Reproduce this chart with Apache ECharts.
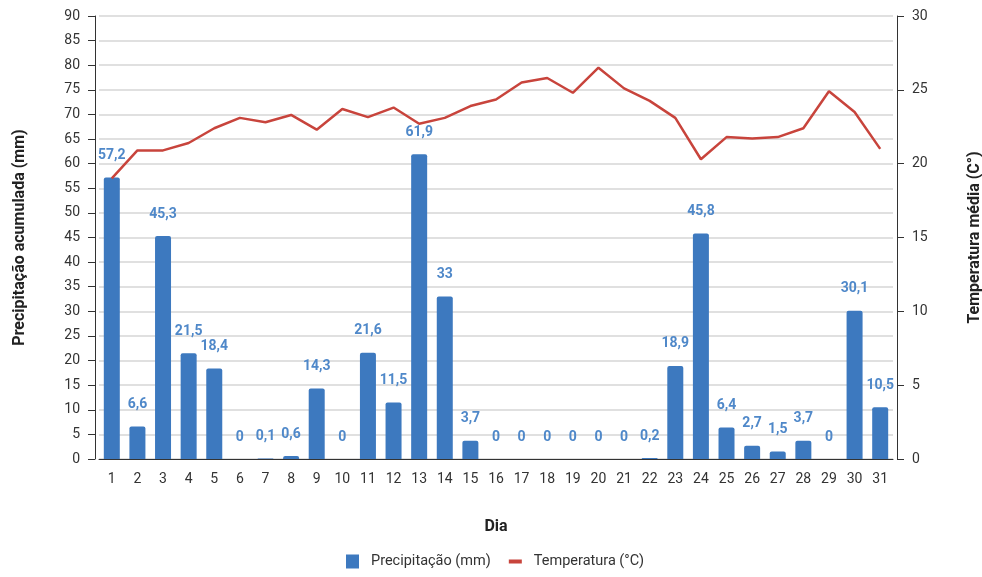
<!DOCTYPE html>
<html>
<head>
<meta charset="utf-8">
<script src="https://cdn.jsdelivr.net/npm/echarts@6/dist/echarts.min.js"></script>
<style>
  html, body { margin: 0; padding: 0; background: #fff; }
  #chart { width: 982px; height: 577px; }
</style>
</head>
<body>
<div id="chart"></div>
<script>
// Dias do mês
const dias = ['1','2','3','4','5','6','7','8','9','10','11','12','13','14','15','16','17','18','19','20','21','22','23','24','25','26','27','28','29','30','31'];

// Precipitação acumulada diária (mm)
const precipitacao = [57.2, 6.6, 45.3, 21.5, 18.4, 0, 0.1, 0.6, 14.3, 0, 21.6, 11.5, 61.9, 33, 3.7, 0, 0, 0, 0, 0, 0, 0.2, 18.9, 45.8, 6.4, 2.7, 1.5, 3.7, 0, 30.1, 10.5];

// Temperatura média diária (°C)
const temperatura = [19.0, 20.9, 20.9, 21.4, 22.4, 23.1, 22.8, 23.3, 22.3, 23.7, 23.15, 23.8, 22.7, 23.1, 23.9, 24.35, 25.5, 25.8, 24.8, 26.5, 25.1, 24.25, 23.1, 20.3, 21.8, 21.7, 21.8, 22.4, 24.9, 23.5, 21.0];

const fonte = 'Roboto, "Noto Sans", sans-serif';
const chart = echarts.init(document.getElementById('chart'), null, { renderer: 'canvas' });

// legend icon for the temperature line: a short thick bar
const iconeLinha = 'path://M0,5 L13,5 L13,9 L0,9 Z M0,0 L0,0 L0,0 Z M13,14 L13,14 L13,14 Z';

chart.setOption({
  animation: false,
  textStyle: { fontFamily: fonte },
  grid: { left: 99, right: 89, top: 16, bottom: 118, outerBoundsMode: 'none', containLabel: false },
  legend: {
    bottom: 3,
    left: 341,
    itemWidth: 13,
    itemHeight: 14,
    itemGap: 18,
    textStyle: { fontSize: 14.5, color: '#333', fontFamily: fonte, padding: [0, 0, 0, 7] },
    data: [
      { name: 'Precipitação (mm)', icon: 'rect' },
      { name: 'Temperatura (°C)', icon: iconeLinha }
    ]
  },
  xAxis: {
    type: 'category',
    data: dias,
    name: 'Dia',
    nameLocation: 'middle',
    nameGap: 60,
    nameTextStyle: { fontSize: 16, fontWeight: 'bold', color: '#222', fontFamily: fonte },
    axisLine: { lineStyle: { color: '#333', width: 1 } },
    axisTick: { alignWithLabel: true, length: 6, lineStyle: { color: '#333' } },
    axisLabel: { fontSize: 14, color: '#333', margin: 13 }
  },
  yAxis: [
    {
      type: 'value',
      min: 0, max: 90, interval: 5,
      offset: 4,
      name: 'Precipitação acumulada (mm)',
      nameLocation: 'middle',
      nameGap: 67,
      nameTextStyle: { fontSize: 16, fontWeight: 'bold', color: '#222', fontFamily: fonte },
      axisLine: { show: true, lineStyle: { color: '#333' } },
      axisTick: { show: true, length: 7, lineStyle: { color: '#333' } },
      axisLabel: { fontSize: 14, color: '#333', margin: 15 },
      splitLine: { lineStyle: { color: '#d6d6d6', width: 1.5 } }
    },
    {
      type: 'value',
      min: 0, max: 30, interval: 5,
      offset: 4,
      name: 'Temperatura média (C°)',
      nameLocation: 'middle',
      nameGap: 70,
      nameRotate: 90,
      nameTextStyle: { fontSize: 16, fontWeight: 'bold', color: '#222', fontFamily: fonte },
      axisLine: { show: true, lineStyle: { color: '#333' } },
      axisTick: { show: true, length: 7, lineStyle: { color: '#333' } },
      axisLabel: { fontSize: 14, color: '#333', margin: 15 },
      splitLine: { show: false }
    }
  ],
  series: [
    {
      name: 'Precipitação (mm)',
      type: 'bar',
      data: precipitacao,
      barWidth: 16,
      itemStyle: { color: '#3d79bf', borderRadius: [2, 2, 0, 0] },
      label: {
        show: true,
        position: 'top',
        distance: 15,
        fontSize: 14,
        fontWeight: 'bold',
        color: '#4f88c9',
        formatter: p => String(p.value).replace('.', ',')
      },
      z: 2
    },
    {
      name: 'Temperatura (°C)',
      type: 'line',
      yAxisIndex: 1,
      data: temperatura,
      symbol: 'none',
      lineStyle: { color: '#c8443c', width: 2.5 },
      itemStyle: { color: '#c8443c' },
      z: 3
    }
  ]
});
</script>
</body>
</html>
